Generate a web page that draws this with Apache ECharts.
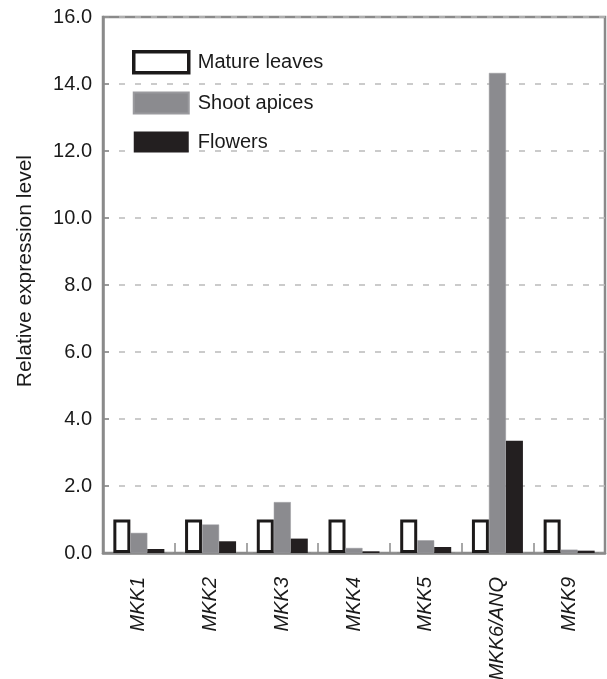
<!DOCTYPE html>
<html>
<head>
<meta charset="utf-8">
<script src="https://cdn.jsdelivr.net/npm/echarts@6/dist/echarts.min.js"></script>
<style>
  html, body { margin: 0; padding: 0; background: #fff; }
  #chart { width: 607px; height: 679px; }
</style>
</head>
<body>
<div id="chart"></div>
<script>
// Expression of MKK genes in three tissues, relative to mature leaves
const genes = ['MKK1', 'MKK2', 'MKK3', 'MKK4', 'MKK5', 'MKK6/ANQ', 'MKK9'];
const matureLeaves = [1.0, 1.0, 1.0, 1.0, 1.0, 1.0, 1.0];
const shootApices = [0.60, 0.85, 1.52, 0.15, 0.38, 14.33, 0.10];
const flowers = [0.12, 0.35, 0.43, 0.05, 0.18, 3.35, 0.07];
const yTicks = [0, 2, 4, 6, 8, 10, 12, 14, 16];

const FONT = '"Liberation Sans", Arial, Helvetica, sans-serif';
const AXIS_GREY = '#8a8a8a';
const TEXT = '#1a1a1a';

const chart = echarts.init(document.getElementById('chart'), null, { renderer: 'canvas' });

const barCommon = {
  type: 'bar',
  barWidth: 17,
  barGap: '0%',
  animation: false
};

chart.setOption({
  backgroundColor: '#ffffff',
  textStyle: { fontFamily: FONT },
  grid: {
    left: 103, right: 2, top: 17, bottom: 126,
    outerBoundsMode: 'none',
    containLabel: false,
    show: true,
    borderColor: AXIS_GREY,
    borderWidth: 2.5,
    backgroundColor: 'transparent'
  },
  legend: {
    orient: 'vertical',
    left: 127,
    top: 45,
    itemWidth: 55,
    itemHeight: 21,
    itemGap: 17,
    icon: 'rect',
    textStyle: { fontSize: 20, color: TEXT, fontFamily: FONT, padding: [0, 0, 0, 4] },
    data: [
      { name: 'Mature leaves', itemStyle: { color: '#ffffff', borderColor: '#1c1a1a', borderWidth: 3.5 } },
      { name: 'Shoot apices' },
      { name: 'Flowers' }
    ]
  },
  xAxis: {
    type: 'category',
    data: genes,
    boundaryGap: true,
    axisLine: { show: true, lineStyle: { color: AXIS_GREY, width: 2.5 } },
    axisTick: { show: true, inside: true, length: 10, lineStyle: { color: AXIS_GREY, width: 1.5 } },
    axisLabel: {
      rotate: 90,
      margin: 24,
      fontSize: 20,
      fontStyle: 'italic',
      color: TEXT,
      fontFamily: FONT
    },
    splitLine: { show: false }
  },
  yAxis: {
    type: 'value',
    min: yTicks[0],
    max: yTicks[yTicks.length - 1],
    interval: yTicks[1] - yTicks[0],
    axisLine: { show: true, lineStyle: { color: AXIS_GREY, width: 2.5 } },
    axisTick: { show: true, inside: true, length: 6, lineStyle: { color: AXIS_GREY, width: 1.5 } },
    axisLabel: {
      margin: 11,
      fontSize: 20,
      color: TEXT,
      fontFamily: FONT,
      formatter: v => v.toFixed(1)
    },
    splitLine: {
      show: true,
      lineStyle: { color: '#bababa', width: 1.5, type: [6, 10] }
    }
  },
  graphic: [{
    type: 'text',
    left: 15,
    top: 155,
    rotation: Math.PI / 2,
    style: {
      text: 'Relative expression level',
      fontSize: 21,
      fill: TEXT,
      fontFamily: FONT
    }
  }],
  series: [
    Object.assign({}, barCommon, {
      name: 'Mature leaves',
      data: matureLeaves,
      itemStyle: { color: '#ffffff', borderColor: '#1c1a1a', borderWidth: 3 }
    }),
    Object.assign({}, barCommon, {
      name: 'Shoot apices',
      data: shootApices,
      itemStyle: { color: '#8b8b8f', borderColor: '#9a9a9e', borderWidth: 0.5 }
    }),
    Object.assign({}, barCommon, {
      name: 'Flowers',
      data: flowers,
      itemStyle: { color: '#231f20' }
    })
  ]
});
</script>
</body>
</html>
